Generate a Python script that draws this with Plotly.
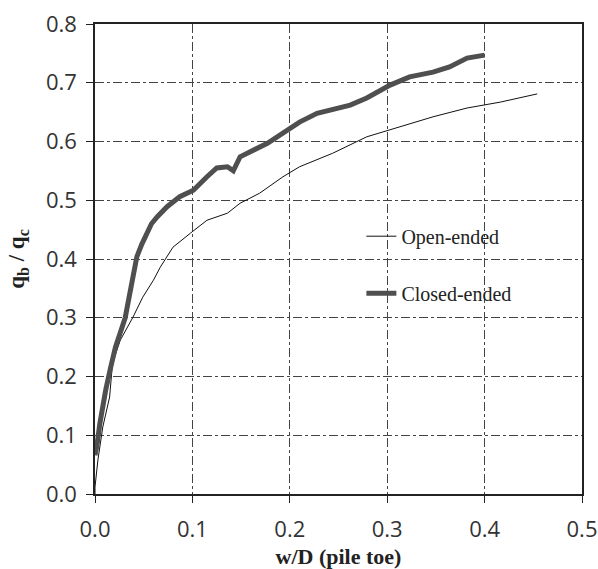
import plotly.graph_objects as go

# Closed-ended pile (thick)
closed_x = [0.0, 0.002, 0.005, 0.008, 0.011, 0.016, 0.021, 0.026, 0.031, 0.035, 0.038, 0.043,
            0.048, 0.053, 0.058, 0.064, 0.074, 0.087, 0.101, 0.115, 0.125, 0.136, 0.142,
            0.149, 0.177, 0.210, 0.228, 0.262, 0.279, 0.303, 0.323, 0.347, 0.364, 0.382, 0.400]
closed_y = [0.066, 0.083, 0.12, 0.15, 0.177, 0.215, 0.25, 0.275, 0.30, 0.335, 0.364, 0.404,
            0.425, 0.444, 0.46, 0.472, 0.489, 0.506, 0.517, 0.54, 0.555, 0.557, 0.55,
            0.574, 0.597, 0.633, 0.648, 0.662, 0.674, 0.696, 0.71, 0.718, 0.727, 0.742, 0.747]

# Open-ended pile (thin)
open_x = [0.0, 0.0, 0.003, 0.008, 0.015, 0.018, 0.026, 0.039, 0.049, 0.060, 0.067, 0.080,
          0.098, 0.115, 0.136, 0.149, 0.169, 0.177, 0.193, 0.210, 0.244, 0.279, 0.313,
          0.347, 0.382, 0.416, 0.454]
open_y = [0.0, 0.012, 0.058, 0.114, 0.165, 0.223, 0.262, 0.301, 0.335, 0.364, 0.386, 0.42,
          0.444, 0.466, 0.478, 0.495, 0.512, 0.521, 0.54, 0.557, 0.58, 0.608, 0.625,
          0.642, 0.657, 0.667, 0.681]

x_ticks = [0.0, 0.1, 0.2, 0.3, 0.4, 0.5]
y_ticks = [0.0, 0.1, 0.2, 0.3, 0.4, 0.5, 0.6, 0.7, 0.8]

fig = go.Figure()
fig.add_trace(go.Scatter(x=open_x, y=open_y, mode="lines", name="Open-ended",
                         legendgroup="a", line=dict(color="#111111", width=1)))
fig.add_trace(go.Scatter(x=closed_x, y=closed_y, mode="lines", name="Closed-ended",
                         legendgroup="b", line=dict(color="#4f4f4f", width=5)))

axis_common = dict(
    showline=True, mirror=True, linecolor="#222222", linewidth=1.5,
    showgrid=True, gridcolor="#444444", gridwidth=1, griddash="dashdot",
    ticks="outside", ticklen=7, tickcolor="#222222", tickformat=".1f",
    zeroline=False, automargin=False,
    tickfont=dict(family="Open Sans", size=22, color="#333333"),
)

fig.update_xaxes(range=[0, 0.5], tickvals=x_ticks, ticklabelstandoff=8, **axis_common,
                 title=dict(text="<b>w/D (pile toe)</b>",
                            font=dict(family="Liberation Serif", size=22, color="#222222")))
fig.update_yaxes(range=[0, 0.8], tickvals=y_ticks, ticklabelstandoff=5, **axis_common,
                 title=dict(text="<b>q<sub>b</sub> / q<sub>c</sub></b>",
                            font=dict(family="Liberation Serif", size=23, color="#222222")))

fig.update_layout(
    width=598, height=569,
    margin=dict(l=95, r=16, t=24, b=75),
    paper_bgcolor="white", plot_bgcolor="white",
    legend=dict(x=0.547, y=0.59, xanchor="left", yanchor="top",
                bgcolor="rgba(0,0,0,0)", tracegroupgap=28,
                font=dict(family="Liberation Serif", size=20, color="#222222")),
)

fig.write_html("out.html", config={"displayModeBar": False},
               post_script="document.body.style.margin='0';document.body.style.overflow='hidden';")
